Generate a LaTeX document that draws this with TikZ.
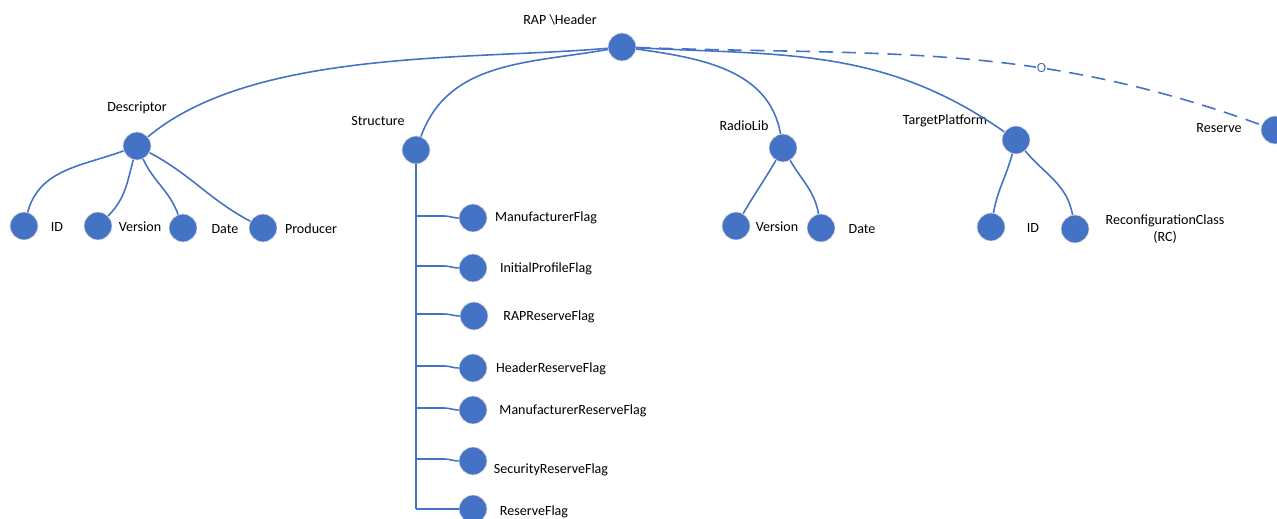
\documentclass[tikz,border=0pt]{standalone}
\usepackage{fontspec}
\setmainfont{Carlito}
\usepackage{tikz}
\definecolor{nodeblue}{HTML}{4472C4}
\tikzset{
  dot/.style={circle, fill=nodeblue, draw=white!75!gray, line width=0.4pt, minimum size=15.9pt, inner sep=0pt},
  lbl/.style={font=\fontsize{8}{9.6}\selectfont, inner sep=1pt, align=center},
  link/.style={nodeblue, line width=0.9pt},
}

\begin{document}
\begin{tikzpicture}[x=0.02cm, y=0.02cm]
    \useasboundingbox (0,-519) rectangle (1277,0);

    % Root
    \node[dot] (rap) at (622,-47) {};
    \node[lbl] (raplbl) at (560,-20) {RAP \textbackslash Header};

    % First level
    \node[dot] (desc) at (137,-146) {};
    \node[lbl] (desclbl) at (137,-108) {Descriptor};
    \node[dot] (struct) at (416,-150) {};
    \node[lbl] (structlbl) at (378,-121) {Structure};
    \node[dot] (radio) at (783,-148) {};
    \node[lbl] (radiolbl) at (744,-126) {RadioLib};
    \node[dot] (target) at (1016,-140) {};
    \node[lbl] (targetlbl) at (945,-121) {TargetPlatform};
    \node[dot] (reserve) at (1275,-130) {};
    \node[lbl] (reservelbl) at (1219,-128) {Reserve};

    \draw[link] (rap) to[out=185, in=40, looseness=0.75] (desc);
    \draw[link] (rap) to[out=190, in=70] (struct);
    \draw[link] (rap) to[out=-8, in=100] (radio);
    \draw[link] (rap) to[out=-3, in=145] (target);
    \draw[link, dash pattern=on 8pt off 5pt] (rap) to[out=-2, in=160]
        node[pos=0.65, fill=white, inner sep=0.5pt, text=nodeblue, font=\fontsize{8}{9.6}\selectfont] (opt) {O} (reserve);

    % Descriptor
    \node[dot] (descid) at (24,-226) {};
    \node[lbl] (descidlbl) at (57,-227) {ID};
    \node[dot] (descver) at (98,-226) {};
    \node[lbl] (descverlbl) at (140,-227) {Version};
    \node[dot] (descdate) at (183,-228) {};
    \node[lbl] (descdatelbl) at (225,-229) {Date};
    \node[dot] (descprod) at (263,-228) {};
    \node[lbl] (descprodlbl) at (311,-229) {Producer};

    \draw[link] (desc) to[out=200, in=75] (descid);
    \draw[link] (desc) to[out=255, in=45] (descver);
    \draw[link] (desc) to[out=-65, in=110] (descdate);
    \draw[link] (desc) to[out=-28, in=152] (descprod);

    % Structure
    \coordinate (trunk) at (416,-509);
    \draw[link] (struct) -- (trunk);

    \node[dot] (mflag) at (473,-218) {};
    \node[lbl] (mflaglbl) at (546,-218) {ManufacturerFlag};
    \node[dot] (iflag) at (473,-268) {};
    \node[lbl] (iflaglbl) at (546,-269) {InitialProfileFlag};
    \node[dot] (rflag) at (474,-316) {};
    \node[lbl] (rflaglbl) at (549,-317) {RAPReserveFlag};
    \node[dot] (hflag) at (473,-368) {};
    \node[lbl] (hflaglbl) at (551,-369) {HeaderReserveFlag};
    \node[dot] (mrflag) at (473,-410) {};
    \node[lbl] (mrflaglbl) at (573,-411) {ManufacturerReserveFlag};
    \node[dot] (sflag) at (473,-461) {};
    \node[lbl] (sflaglbl) at (551,-470) {SecurityReserveFlag};
    \node[dot] (resflag) at (473,-509) {};
    \node[lbl] (resflaglbl) at (534,-512) {ReserveFlag};

    \coordinate (b1) at (416,-216);
    \coordinate (b2) at (416,-266);
    \coordinate (b3) at (416,-314);
    \coordinate (b4) at (416,-366);
    \coordinate (b5) at (416,-408);
    \coordinate (b6) at (416,-459);
    \draw[link] (b1) -- ++(28,0) to[out=0, in=180] (mflag.west);
    \draw[link] (b2) -- ++(28,0) to[out=0, in=180] (iflag.west);
    \draw[link] (b3) -- ++(28,0) to[out=0, in=180] (rflag.west);
    \draw[link] (b4) -- ++(28,0) to[out=0, in=180] (hflag.west);
    \draw[link] (b5) -- ++(28,0) to[out=0, in=180] (mrflag.west);
    \draw[link] (b6) -- ++(28,0) to[out=0, in=180] (sflag.west);
    \draw[link] (trunk) -- (resflag.west);

    % RadioLib
    \node[dot] (radiover) at (736,-226) {};
    \node[lbl] (radioverlbl) at (777,-227) {Version};
    \node[dot] (radiodate) at (821,-228) {};
    \node[lbl] (radiodatelbl) at (862,-229) {Date};

    \draw[link] (radio) to[out=240, in=60] (radiover);
    \draw[link] (radio) to[out=-60, in=100] (radiodate);

    % TargetPlatform
    \node[dot] (targetid) at (991,-227) {};
    \node[lbl] (targetidlbl) at (1033,-228) {ID};
    \node[dot] (targetrc) at (1075,-229) {};
    \node[lbl] (targetrclbl) at (1165,-229) {ReconfigurationClass\\(RC)};

    \draw[link] (target) to[out=255, in=80] (targetid);
    \draw[link] (target) to[out=-50, in=100] (targetrc);
\end{tikzpicture}
\end{document}
